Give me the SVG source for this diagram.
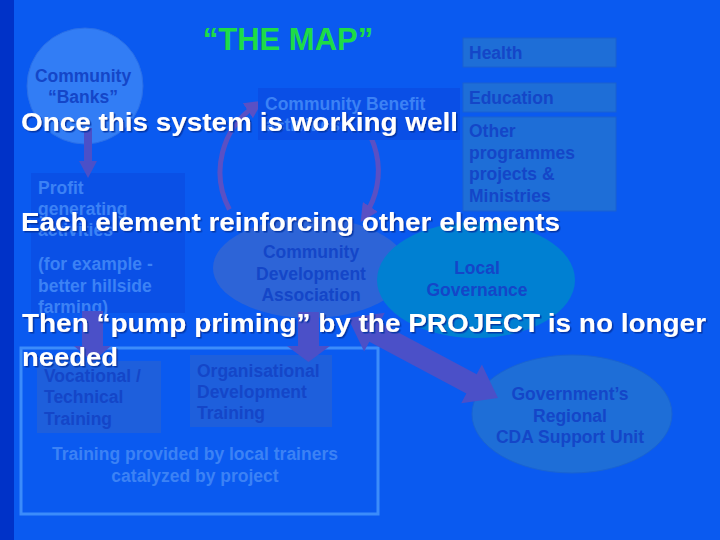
<svg xmlns="http://www.w3.org/2000/svg" width="720" height="540" viewBox="0 0 720 540">
  <defs>
    <marker id="ah" markerUnits="userSpaceOnUse" markerWidth="18" markerHeight="18" refX="9" refY="9" orient="auto">
      <path d="M0,0 L18,9 L0,18 z" fill="#5a50c4"/>
    </marker>
    <filter id="sh" x="-5%" y="-20%" width="110%" height="140%">
      <feDropShadow dx="1.5" dy="1.5" stdDeviation="0.6" flood-color="#0030a0" flood-opacity="0.9"/>
    </filter>
  </defs>
  <style>
    text { font-family: "Liberation Sans", Arial, sans-serif; font-weight: bold; }
    .lbl { font-size: 17.5px; fill: #1446c8; }
    .lite { font-size: 17.5px; fill: #3c82f5; }
    .mid { text-anchor: middle; }
    .big { font-size: 26px; fill: #ffffff; filter: url(#sh); }
    .blk { fill: #4b50c8; }
    .loop { fill: none; stroke: #5a50c4; stroke-width: 5; marker-end: url(#ah); }
    .pale { fill: #1e6ed7; stroke: #1a60d0; stroke-width: 1; }
  </style>

  <rect x="0" y="0" width="720" height="540" fill="#0a5af0"/>
  <rect x="0" y="0" width="14" height="540" fill="#0032c8"/>

  <text x="288" y="50" text-anchor="middle" font-size="31" fill="#1edc46" style="font-weight:bold">“THE MAP”</text>

  <g id="connectors-loop">
    <path class="loop" d="M229.4,209.5 A80,80 0 0 1 255.3,105.7"/>
    <path class="loop" d="M340,102.7 A80,80 0 0 1 365.5,214.5"/>
  </g>

  <g id="community-banks">
    <circle cx="85" cy="86" r="58" fill="#327df5" stroke="#2a6fe8" stroke-width="1"/>
    <text class="lbl mid" x="83" y="82">Community</text>
    <text class="lbl mid" x="83" y="103">“Banks”</text>
  </g>

  <g id="community-benefit">
    <rect x="258" y="88" width="202" height="52" fill="#0a4fe6"/>
    <text class="lite" x="265" y="110">Community Benefit</text>
    <text class="lite" x="265" y="131">activities</text>
  </g>

  <g id="profit">
    <rect x="31" y="173" width="154" height="140" fill="#0a50e6"/>
    <text class="lite" x="38" y="194">Profit</text>
    <text class="lite" x="38" y="215">generating</text>
    <text class="lite" x="38" y="236">activities</text>
    <text class="lite" x="38" y="270">(for example -</text>
    <text class="lite" x="38" y="292">better hillside</text>
    <text class="lite" x="38" y="313">farming)</text>
  </g>

  <g id="health">
    <rect class="pale" x="463" y="38" width="153" height="29"/>
    <text class="lbl" x="469" y="59">Health</text>
  </g>
  <g id="education">
    <rect class="pale" x="463" y="83" width="153" height="29"/>
    <text class="lbl" x="469" y="104">Education</text>
  </g>
  <g id="other">
    <rect class="pale" x="463" y="117" width="153" height="94"/>
    <text class="lbl" x="469" y="137">Other</text>
    <text class="lbl" x="469" y="159">programmes</text>
    <text class="lbl" x="469" y="180">projects &amp;</text>
    <text class="lbl" x="469" y="202">Ministries</text>
  </g>

  <g id="cda">
    <ellipse cx="310" cy="268" rx="97" ry="50" fill="#2d64d7"/>
    <text class="lbl mid" x="311" y="258">Community</text>
    <text class="lbl mid" x="311" y="280">Development</text>
    <text class="lbl mid" x="311" y="301">Association</text>
  </g>

  <g id="local-governance">
    <ellipse cx="476" cy="280" rx="99" ry="58" fill="#0080d2"/>
    <text class="lbl mid" x="477" y="274">Local</text>
    <text class="lbl mid" x="477" y="296">Governance</text>
  </g>

  <g id="government">
    <ellipse cx="572" cy="414" rx="100" ry="59" fill="#1e6ed7" stroke="#1a64d2" stroke-width="1"/>
    <text class="lbl mid" x="570" y="400">Government’s</text>
    <text class="lbl mid" x="570" y="422">Regional</text>
    <text class="lbl mid" x="570" y="443">CDA Support Unit</text>
  </g>

  <g id="training">
    <rect x="21" y="348" width="357" height="166" fill="none" stroke="#3c8cfa" stroke-width="3"/>
    <text class="lite mid" x="195" y="460">Training provided by local trainers</text>
    <text class="lite mid" x="195" y="482">catalyzed by project</text>
  </g>
  <g id="vocational">
    <rect x="37" y="361" width="124" height="72" fill="#1e5fdc"/>
    <text class="lbl" x="44" y="382">Vocational /</text>
    <text class="lbl" x="44" y="403">Technical</text>
    <text class="lbl" x="44" y="425">Training</text>
  </g>
  <g id="od-training">
    <rect x="190" y="355" width="142" height="72" fill="#1e5fdc"/>
    <text class="lbl" x="197" y="377">Organisational</text>
    <text class="lbl" x="197" y="398">Development</text>
    <text class="lbl" x="197" y="419">Training</text>
  </g>

  <g id="connectors">
    <polygon class="blk" points="84,128 92,128 92,161 97,161 88,178 79,161 84,161"/>
    <polygon class="blk" points="82,311 103,311 103,346 111,346 92.5,362 74,346 82,346"/>
    <polygon class="blk" points="298,312 319,312 319,346 330,346 308.5,362 287,346 298,346"/>
    <polygon class="blk" transform="translate(348,318) rotate(28.07)" points="0,0 30,-22 30,-11 140,-11 140,-22 170,0 140,22 140,11 30,11 30,22"/>
  </g>

  <g id="overlay-text">
    <text class="big" x="21" y="131" textLength="437" lengthAdjust="spacingAndGlyphs">Once this system is working well</text>
    <text class="big" x="21" y="231" textLength="539" lengthAdjust="spacingAndGlyphs">Each element reinforcing other elements</text>
    <text class="big" x="22" y="332" textLength="684" lengthAdjust="spacingAndGlyphs">Then “pump priming” by the PROJECT is no longer</text>
    <text class="big" x="22" y="366" textLength="96" lengthAdjust="spacingAndGlyphs">needed</text>
  </g>
</svg>
